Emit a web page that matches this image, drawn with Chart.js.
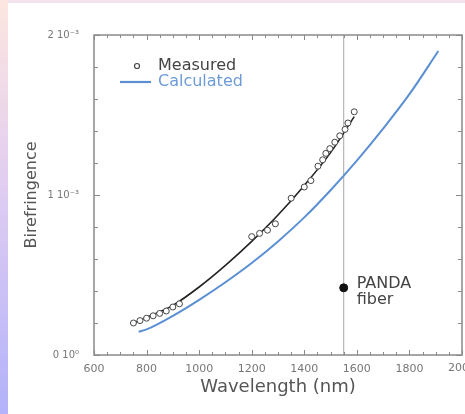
<!DOCTYPE html>
<html><head><meta charset="utf-8">
<script src="https://cdn.jsdelivr.net/npm/chart.js@4.4.0/dist/chart.umd.min.js"></script>
<style>
html,body{margin:0;padding:0;background:#fff;}
#wrap{position:relative;width:465px;height:414px;overflow:hidden;background:#fff;}
#left{position:absolute;left:0;top:0;width:8px;height:414px;background:linear-gradient(#fde6df,#e0cdf1 45%,#b2b2fa);}
#top{position:absolute;left:8px;top:0;width:457px;height:3px;background:#f3e3ee;}
canvas{position:absolute;left:0;top:0;}
</style></head><body>
<div id="wrap"><canvas id="c" width="465" height="414"></canvas><div id="left"></div><div id="top"></div></div>
<script>
// ---- data ----
const seriesNames = ['Measured', 'Calculated'];
const xTickLabels = [600, 800, 1000, 1200, 1400, 1600, 1800, 2000];
const yTickLabels = ['0 10\u2070', '1 10\u207B\u00B3', '2 10\u207B\u00B3'];
const measuredX = [750, 775, 800, 825, 850, 875, 900, 925, 1200, 1230, 1260, 1290, 1350, 1400, 1425, 1452, 1470, 1482, 1497, 1516, 1535, 1555, 1566, 1590];
const measuredY = [0.20, 0.215, 0.23, 0.245, 0.26, 0.275, 0.30, 0.32, 0.74, 0.76, 0.78, 0.82, 0.98, 1.05, 1.09, 1.18, 1.22, 1.26, 1.29, 1.33, 1.37, 1.41, 1.45, 1.52];
const fitX = [750, 800, 900, 1000, 1100, 1200, 1300, 1400, 1500, 1590];
const fitY = [0.20, 0.235, 0.31, 0.425, 0.56, 0.71, 0.875, 1.06, 1.265, 1.49];
const calcX = [770, 800, 900, 1000, 1100, 1200, 1300, 1400, 1500, 1600, 1700, 1800, 1910];
const calcY = [0.145, 0.16, 0.245, 0.345, 0.455, 0.575, 0.71, 0.86, 1.03, 1.215, 1.415, 1.63, 1.90];
const pandaX = [1550];
const pandaY = [0.42];
const pandaLabel = ['PANDA', 'fiber'];
const markerX = [1550, 1550];
const markerY = [0, 2];

const zip = (xs, ys) => xs.map((x, i) => ({x: x, y: ys[i]}));
const BLUE = '#5b8fd3';
const LAST_X = xTickLabels[xTickLabels.length - 1];

const decor = {
  id: 'decor',
  afterDatasetsDraw(chart) {
    const ctx = chart.ctx, a = chart.chartArea;
    const xs = chart.scales.x, ys = chart.scales.y;
    ctx.save();
    ctx.strokeStyle = '#8a8a8a';
    ctx.lineWidth = 1.5;
    ctx.strokeRect(a.left, a.top, a.right - a.left, a.bottom - a.top);
    ctx.lineWidth = 1;
    ctx.beginPath();
    xs.ticks.forEach(t => {
      const px = Math.round(xs.getPixelForValue(t.value)) + 0.5;
      const len = (t.value % 200 === 0) ? 5 : 3;
      ctx.moveTo(px, a.bottom); ctx.lineTo(px, a.bottom - len);
      ctx.moveTo(px, a.top); ctx.lineTo(px, a.top + len);
    });
    ys.ticks.forEach(t => {
      const py = Math.round(ys.getPixelForValue(t.value)) + 0.5;
      const len = (Math.abs(t.value - Math.round(t.value)) < 1e-6) ? 6 : 4;
      ctx.moveTo(a.left, py); ctx.lineTo(a.left + len, py);
      ctx.moveTo(a.right, py); ctx.lineTo(a.right - len, py);
    });
    ctx.stroke();
    // last x tick label (runs off the edge, as in the original)
    ctx.fillStyle = '#777';
    ctx.font = '11px "DejaVu Sans"';
    ctx.textAlign = 'center';
    ctx.textBaseline = 'top';
    ctx.fillText(String(LAST_X), xs.getPixelForValue(LAST_X), a.bottom + 8);
    // PANDA label
    const px = xs.getPixelForValue(pandaX[0]);
    const py = ys.getPixelForValue(pandaY[0]);
    ctx.fillStyle = '#444';
    ctx.font = '16px "DejaVu Sans"';
    ctx.textBaseline = 'middle';
    ctx.textAlign = 'left';
    ctx.fillText(pandaLabel[0], px + 13, py - 4);
    ctx.fillText(pandaLabel[1], px + 13, py + 12);
    // legend
    ctx.beginPath();
    ctx.arc(137, 66, 2.5, 0, Math.PI * 2);
    ctx.strokeStyle = '#444'; ctx.lineWidth = 1.2; ctx.stroke();
    ctx.fillStyle = '#444';
    ctx.fillText(seriesNames[0], 158, 66);
    ctx.beginPath();
    ctx.moveTo(120, 82); ctx.lineTo(151, 82);
    ctx.strokeStyle = BLUE; ctx.lineWidth = 2.2; ctx.stroke();
    ctx.fillStyle = '#6d9bd8';
    ctx.fillText(seriesNames[1], 158, 82);
    ctx.restore();
  }
};

new Chart(document.getElementById('c'), {
  type: 'scatter',
  data: {
    datasets: [
      {data: zip(markerX, markerY), showLine: true, borderColor: '#a8a8a8', borderWidth: 1, pointRadius: 0, order: 5},
      {data: zip(calcX, calcY), showLine: true, borderColor: BLUE, borderWidth: 2, pointRadius: 0, cubicInterpolationMode: 'monotone', order: 4},
      {data: zip(fitX, fitY), showLine: true, borderColor: '#222', borderWidth: 1.6, pointRadius: 0, cubicInterpolationMode: 'monotone', order: 3},
      {data: zip(measuredX, measuredY), showLine: false, pointRadius: 3, pointBackgroundColor: '#fff', pointBorderColor: '#444', pointBorderWidth: 1, order: 2},
      {data: zip(pandaX, pandaY), showLine: false, pointRadius: 4, pointBackgroundColor: '#111', pointBorderColor: '#111', order: 1}
    ]
  },
  options: {
    responsive: false,
    animation: false,
    events: [],
    layout: {autoPadding: false, padding: {left: 0, top: 35, right: 3, bottom: 0}},
    plugins: {legend: {display: false}, tooltip: {enabled: false}},
    scales: {
      x: {
        type: 'linear', min: 600, max: 2000,
        afterFit(s) { s.height = 59; s.paddingLeft = 0; s.paddingRight = 0; },
        grid: {display: false, drawTicks: false},
        border: {display: false},
        ticks: {
          stepSize: 50, autoSkip: false, maxRotation: 0, padding: 8,
          color: '#777', font: {family: 'DejaVu Sans', size: 11},
          callback: v => (xTickLabels.includes(v) && v !== LAST_X) ? String(v) : ''
        },
        title: {display: true, text: 'Wavelength (nm)', color: '#555', font: {family: 'DejaVu Sans', size: 18}, padding: {top: 0, bottom: 16}}
      },
      y: {
        type: 'linear', min: 0, max: 2,
        afterFit(s) { s.width = 94; s.paddingTop = 0; s.paddingBottom = 0; },
        grid: {display: false, drawTicks: false},
        border: {display: false},
        ticks: {
          stepSize: 0.2, autoSkip: false, padding: 15,
          color: '#777', font: {family: 'DejaVu Sans', size: 10},
          callback: v => {
            const r = Math.round(v);
            return Math.abs(v - r) < 1e-6 ? yTickLabels[r] : '';
          }
        },
        title: {display: true, text: 'Birefringence', color: '#555', font: {family: 'DejaVu Sans', size: 16}, padding: {top: 22, bottom: 0}}
      }
    }
  },
  plugins: [decor]
});
</script>
</body></html>
